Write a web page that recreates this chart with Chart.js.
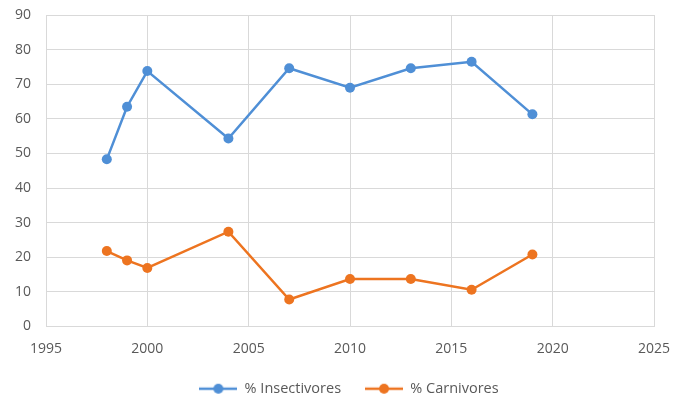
<!DOCTYPE html>
<html>
<head>
<meta charset="utf-8">
<script src="https://cdn.jsdelivr.net/npm/chart.js@4/dist/chart.umd.min.js"></script>
<style>
  html, body { margin: 0; padding: 0; background: #fff; }
  #wrap { width: 684px; height: 398px; }
</style>
</head>
<body>
<div id="wrap"><canvas id="chart" width="684" height="398"></canvas></div>
<script>
// years of the surveys
const years = [1998, 1999, 2000, 2004, 2007, 2010, 2013, 2016, 2019];
const insectivores = [48.3, 63.5, 73.8, 54.3, 74.6, 69.0, 74.6, 76.5, 61.3];
const carnivores = [21.8, 19.1, 16.9, 27.4, 7.8, 13.7, 13.7, 10.6, 20.8];
const seriesNames = ['% Insectivores', '% Carnivores'];
const seriesColors = ['#4f8fd6', '#ed7420'];

const xTicks = [1995, 2000, 2005, 2010, 2015, 2020, 2025];
const yTicks = [0, 10, 20, 30, 40, 50, 60, 70, 80, 90];

// legend marker: short line with a dot, like the spreadsheet one
function legendMarker(color) {
  const c = document.createElement('canvas');
  c.width = 38; c.height = 12;
  const g = c.getContext('2d');
  g.strokeStyle = color;
  g.lineWidth = 2.5;
  g.beginPath(); g.moveTo(0, 6); g.lineTo(38, 6); g.stroke();
  g.fillStyle = color;
  g.beginPath(); g.arc(19, 6, 5, 0, Math.PI * 2); g.fill();
  return c;
}

// the legend in the original sits a bit right of the canvas centre
const legendShift = {
  id: 'legendShift',
  afterLayout(chart) {
    if (chart.legend) {
      chart.legend.left += 22;
      chart.legend.right += 22;
    }
  }
};

const toPoints = vals => vals.map((v, i) => ({ x: years[i], y: v }));

new Chart(document.getElementById('chart'), {
  type: 'line',
  data: {
    datasets: [insectivores, carnivores].map((vals, i) => ({
      label: seriesNames[i],
      data: toPoints(vals),
      borderColor: seriesColors[i],
      backgroundColor: seriesColors[i],
      borderWidth: 2.5,
      pointRadius: 5,
      pointBorderWidth: 0,
      pointStyle: 'circle',
      tension: 0
    }))
  },
  options: {
    responsive: false,
    animation: false,
    layout: { padding: { top: 15, right: 30, left: 0, bottom: -8 } },
    plugins: {
      tooltip: { enabled: false },
      legend: {
        position: 'bottom',
        labels: {
          color: '#595959',
          font: { family: 'Open Sans', size: 14.5 },
          usePointStyle: true,
          pointStyleWidth: 38,
          boxWidth: 38,
          boxHeight: 12,
          padding: 24,
          generateLabels: chart => chart.data.datasets.map((ds, i) => ({
            text: ds.label,
            pointStyle: legendMarker(seriesColors[i]),
            fontColor: '#595959',
            strokeStyle: 'transparent',
            fillStyle: 'transparent',
            lineWidth: 0,
            datasetIndex: i
          }))
        }
      }
    },
    scales: {
      x: {
        type: 'linear',
        min: 1995,
        max: 2025,
        afterBuildTicks: s => { s.ticks = xTicks.map(v => ({ value: v })); },
        ticks: {
          color: '#595959',
          font: { family: 'Open Sans', size: 14 },
          padding: 14,
          maxRotation: 0,
          callback: v => String(v)
        },
        grid: { color: '#d9d9d9', drawTicks: false },
        border: { color: '#d9d9d9' },
        afterFit: s => { s.height = 31; s.paddingLeft = 0; s.paddingRight = 0; }
      },
      y: {
        min: 0,
        max: 90,
        afterBuildTicks: s => { s.ticks = yTicks.map(v => ({ value: v })); },
        ticks: {
          color: '#595959',
          font: { family: 'Open Sans', size: 14 },
          padding: 15
        },
        grid: { color: '#d9d9d9', drawTicks: false },
        border: { color: '#d9d9d9' },
        afterFit: s => { s.width = 46; s.paddingTop = 0; s.paddingBottom = 0; }
      }
    }
  },
  plugins: [legendShift]
});
</script>
</body>
</html>
